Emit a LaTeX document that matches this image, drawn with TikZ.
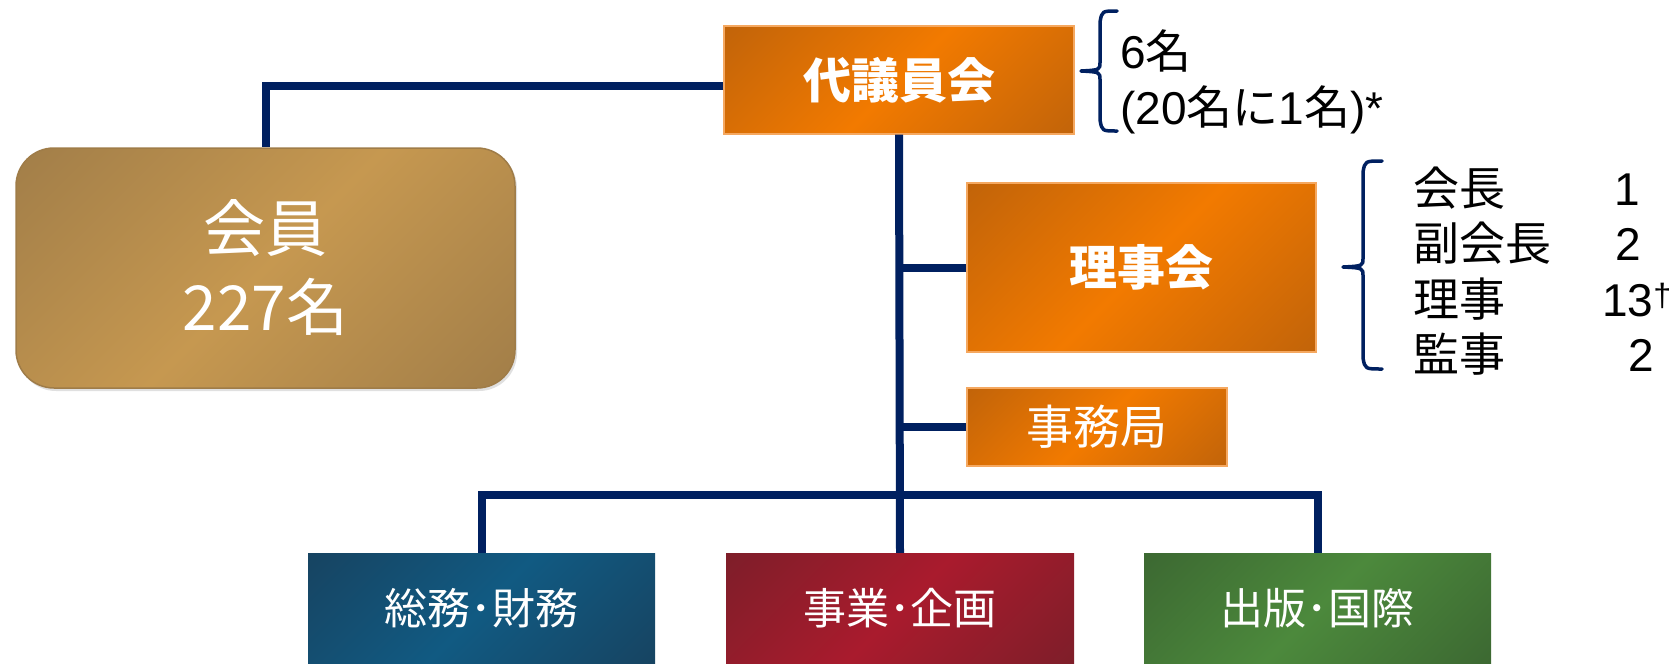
\documentclass[tikz,border=0pt]{standalone}
\usepackage{fontspec}
\setmainfont{Liberation Sans}
\newfontfamily\jp{Noto Sans CJK JP}
\definecolor{navy}{HTML}{002060}
\definecolor{ordk}{HTML}{BE620A}
\definecolor{orbr}{HTML}{F27A00}
\definecolor{orline}{HTML}{F5A860}
\definecolor{gddk}{HTML}{9F7C48}
\definecolor{gdbr}{HTML}{C69850}
\definecolor{bldk}{HTML}{17425F}
\definecolor{blbr}{HTML}{115A82}
\definecolor{rddk}{HTML}{7B1E29}
\definecolor{rdbr}{HTML}{A91B2D}
\definecolor{grdk}{HTML}{3B6631}
\definecolor{grbr}{HTML}{4C893C}
\pgfdeclarehorizontalshading{orsh}{100bp}{color(0bp)=(ordk); color(12bp)=(ordk); color(50bp)=(orbr); color(88bp)=(ordk); color(100bp)=(ordk)}
\pgfdeclarehorizontalshading{gdsh}{100bp}{color(0bp)=(gddk); color(12bp)=(gddk); color(50bp)=(gdbr); color(88bp)=(gddk); color(100bp)=(gddk)}
\pgfdeclarehorizontalshading{blsh}{100bp}{color(0bp)=(bldk); color(12bp)=(bldk); color(50bp)=(blbr); color(88bp)=(bldk); color(100bp)=(bldk)}
\pgfdeclarehorizontalshading{rdsh}{100bp}{color(0bp)=(rddk); color(12bp)=(rddk); color(50bp)=(rdbr); color(88bp)=(rddk); color(100bp)=(rddk)}
\pgfdeclarehorizontalshading{grsh}{100bp}{color(0bp)=(grdk); color(12bp)=(grdk); color(50bp)=(grbr); color(88bp)=(grdk); color(100bp)=(grdk)}
\tikzset{
  conn/.style={draw=navy, line width=8pt},
  bracepath/.style={draw=navy, line width=3.5pt, line cap=round, line join=round},
  basebox/.style={inner sep=0pt, text=white, shading angle=-45},
  obox/.style={basebox, shading=orsh, draw=orline, line width=1.2pt},
  bottombox/.style={basebox, minimum width=347pt, minimum height=111pt,
    font={\jp\fontsize{43}{50}\selectfont}},
  blabel/.style={inner sep=0pt, anchor=base west, text=black,
    font={\jp\fontsize{46}{55}\selectfont}},
  nlabel/.style={inner sep=0pt, anchor=base west, text=black,
    font={\fontsize{46}{55}\selectfont}},
}
\begin{document}
\begin{tikzpicture}[x=1pt,y=-1pt]
\useasboundingbox (0,0) rectangle (1679,664);

% boxes
\node[obox, minimum width=350pt, minimum height=108pt,
  font={\jp\bfseries\fontsize{48}{58}\selectfont}] (daigi) at (899,80) {代議員会};
\fill[black, opacity=0.12, rounded corners=38pt] (18,150) rectangle (517,391);
\node[basebox, shading=gdsh, rounded corners=38pt, draw=gddk, line width=1.5pt,
  minimum width=499pt, minimum height=240pt, align=center,
  font={\jp\fontsize{62}{79}\selectfont}] (kaiin) at (265.5,268) {会員\\227名};
\node[obox, minimum width=349pt, minimum height=169pt,
  font={\jp\bfseries\fontsize{48}{58}\selectfont}] (riji) at (1141.5,267.5) {理事会};
\node[obox, minimum width=260pt, minimum height=78pt,
  font={\jp\fontsize{47}{56}\selectfont}] (jimu) at (1097,427) {事務局};
\node[bottombox, shading=blsh] (soumu) at (481.5,608.5) {総務･財務};
\node[bottombox, shading=rdsh, minimum width=348pt] (jigyo) at (900,608.5) {事業･企画};
\node[bottombox, shading=grsh] (shuppan) at (1317.5,608.5) {出版･国際};

% connectors
\coordinate (bus) at (899,495);
\draw[conn] ([yshift=-6pt]daigi.west) -| (kaiin.north);
\draw[conn] (daigi.south) -- (jigyo.north);
\draw[conn] (riji.west) -- (riji.west -| daigi.south);
\draw[conn] (jimu.west) -- (jimu.west -| daigi.south);
\draw[conn] (soumu.north) |- (bus) -| (shuppan.north);

% braces
\draw[bracepath] (1117,11) .. controls (1102,11) .. (1100,22) -- (1100,62)
  .. controls (1100,70) .. (1081,71) .. controls (1100,72) .. (1100,80)
  -- (1100,120) .. controls (1102,131) .. (1117,131);
\draw[bracepath] (1382,161) .. controls (1365,161) .. (1363,172) -- (1363,258)
  .. controls (1363,266) .. (1343,267) .. controls (1363,268) .. (1363,276)
  -- (1363,358) .. controls (1365,369) .. (1382,369);

% brace texts
\node[nlabel] (t6) at (1120,68) {6{\jp 名}};
\node[nlabel] (t20) at (1120,124) {(20{\jp 名に}1{\jp 名})*};

\node[blabel] (r1) at (1413,205) {会長};
\node[blabel] (r2) at (1413,260) {副会長};
\node[blabel] (r3) at (1413,316) {理事};
\node[blabel] (r4) at (1413,371) {監事};
\node[nlabel] (n1) at (1614,205) {1};
\node[nlabel] (n2) at (1615,260) {2};
\node[nlabel] (n3) at (1602,316) {13\textsuperscript{†}};
\node[nlabel] (n4) at (1628,371) {2};
\end{tikzpicture}
\end{document}
